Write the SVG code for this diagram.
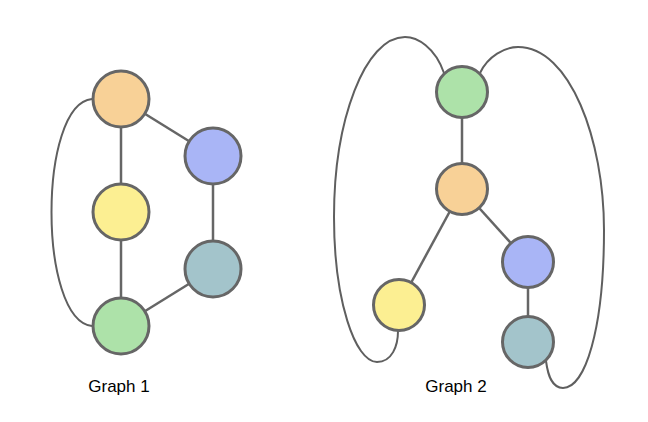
<svg xmlns="http://www.w3.org/2000/svg" width="648" height="422" viewBox="0 0 648 422">
<style>
.n{stroke:#666;stroke-width:3}
.e{stroke:#666;stroke-width:2.5;fill:none}
.c{stroke:#5f5f5f;stroke-width:2;fill:none}
.t{font-family:"Liberation Sans",Arial,sans-serif;font-size:17px;fill:#000;text-anchor:middle}
</style>
<rect width="648" height="422" fill="#fff"/>
<g id="edges">
<line class="e" x1="121" y1="99" x2="213" y2="156"/>
<line class="e" x1="121" y1="99" x2="121" y2="212"/>
<line class="e" x1="121" y1="212" x2="121" y2="326"/>
<line class="e" x1="213" y1="156" x2="213" y2="269"/>
<line class="e" x1="213" y1="269" x2="121" y2="326"/>
<path class="c" d="M 92 99 C 38 104, 38 320, 92 326"/>
<line class="e" x1="462" y1="92" x2="462" y2="189"/>
<line class="e" x1="462" y1="189" x2="399" y2="305"/>
<line class="e" x1="462" y1="189" x2="528" y2="262"/>
<line class="e" x1="528" y1="262" x2="528" y2="342"/>
<path class="c" d="M 444 73 C 435 47, 417 37, 405 37 C 365 37, 334 120, 334 217 C 334 300, 355 362, 377 362 C 392 362, 398 346, 398 331"/>
<path class="c" d="M 480 73 C 488 56, 505 47, 518 47 C 570 47, 604 140, 604 230 C 604 330, 585 388, 563 388 C 552 388, 548 376, 546 361"/>
</g>
<g id="g1-orange"><circle class="n" cx="121" cy="99" r="28" fill="#f8d197"/></g>
<g id="g1-blue"><circle class="n" cx="213" cy="156" r="28" fill="#a9b5f6"/></g>
<g id="g1-yellow"><circle class="n" cx="121" cy="212" r="28" fill="#fcef92"/></g>
<g id="g1-teal"><circle class="n" cx="213" cy="269" r="28" fill="#a3c4cb"/></g>
<g id="g1-green"><circle class="n" cx="121" cy="326" r="28" fill="#ade2a9"/></g>
<g id="g2-green"><circle class="n" cx="462" cy="92" r="25.5" fill="#ade2a9"/></g>
<g id="g2-orange"><circle class="n" cx="462" cy="189" r="25.5" fill="#f8d197"/></g>
<g id="g2-blue"><circle class="n" cx="528" cy="262" r="25.5" fill="#a9b5f6"/></g>
<g id="g2-yellow"><circle class="n" cx="399" cy="305" r="25.5" fill="#fcef92"/></g>
<g id="g2-teal"><circle class="n" cx="528" cy="342" r="25.5" fill="#a3c4cb"/></g>
<g id="labels">
<text class="t" x="119" y="392">Graph 1</text>
<text class="t" x="456" y="392">Graph 2</text>
</g>
</svg>
